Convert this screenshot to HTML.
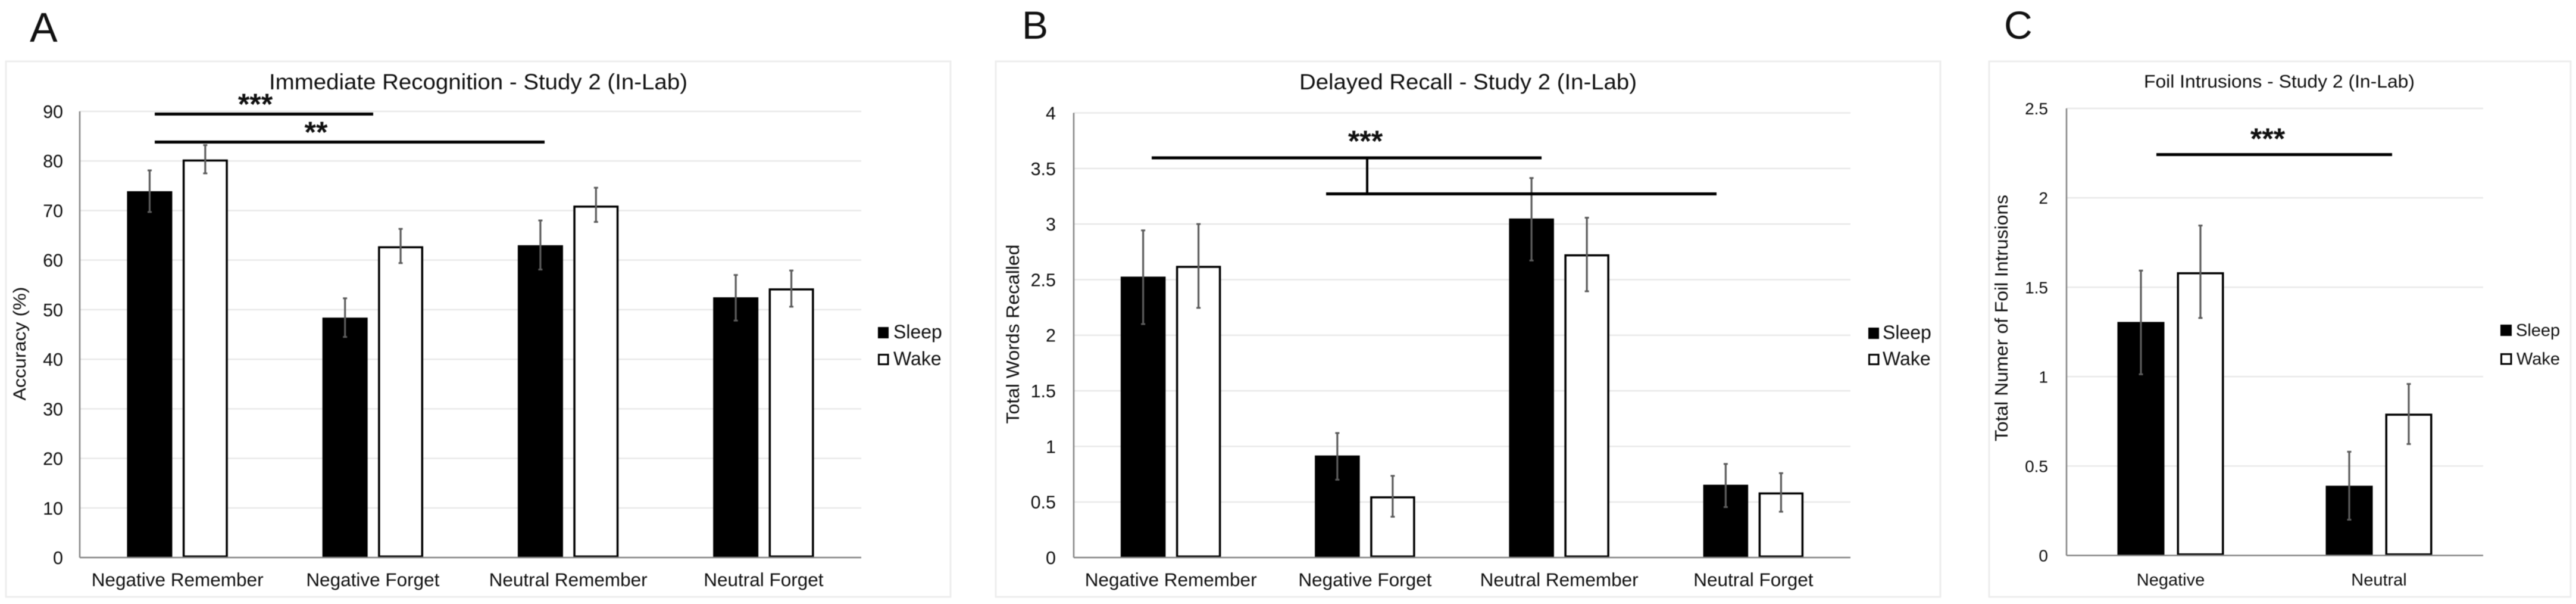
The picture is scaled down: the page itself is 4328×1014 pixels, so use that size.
<!DOCTYPE html>
<html lang="en">
<head>
<meta charset="utf-8">
<title>Study 2 (In-Lab) charts</title>
<style>
html,body{margin:0;padding:0;background:#fff;width:4328px;height:1014px;overflow:hidden}
svg{display:block;filter:blur(0.6px)}
text{font-family:"Liberation Sans",Arial,sans-serif;fill:#111}
</style>
</head>
<body>
<svg id="figure" xmlns="http://www.w3.org/2000/svg" width="4328" height="1014" viewBox="0 0 4328 1014">
  <rect width="4328" height="1014" fill="#fff"/>

  <!-- Panel frames -->
  <rect x="10" y="103" width="1587" height="899" fill="#fff" stroke="#eeeeee" stroke-width="3"/>
  <rect x="1673" y="103" width="1587" height="899" fill="#fff" stroke="#eeeeee" stroke-width="3"/>
  <rect x="3342" y="103" width="977" height="899" fill="#fff" stroke="#eeeeee" stroke-width="3"/>

  <!-- Panel letters -->
  <text x="50" y="70" font-size="70" fill="#000">A</text>
  <text x="1717" y="65" font-size="66" fill="#000">B</text>
  <text x="3367" y="65" font-size="66" fill="#000">C</text>

  <!-- Titles -->
  <text x="452" y="150" font-size="37.5" textLength="703" lengthAdjust="spacingAndGlyphs">Immediate Recognition - Study 2 (In-Lab)</text>
  <text x="2183" y="150" font-size="37.5" textLength="567" lengthAdjust="spacingAndGlyphs">Delayed Recall - Study 2 (In-Lab)</text>
  <text x="3602" y="147" font-size="31" textLength="455" lengthAdjust="spacingAndGlyphs">Foil Intrusions - Study 2 (In-Lab)</text>

  <!-- Y axis titles -->
  <text transform="translate(43,577) rotate(-90)" text-anchor="middle" font-size="30" textLength="191" lengthAdjust="spacingAndGlyphs">Accuracy (%)</text>
  <text transform="translate(1712,561) rotate(-90)" text-anchor="middle" font-size="30.5" textLength="301" lengthAdjust="spacingAndGlyphs">Total Words Recalled</text>
  <text transform="translate(3373,534) rotate(-90)" text-anchor="middle" font-size="31" textLength="414" lengthAdjust="spacingAndGlyphs">Total Numer of Foil Intrusions</text>

  <g id="panel-a"></g>
  <g id="panel-b"></g>
  <g id="panel-c"></g>

  <!-- Significance annotations -->
  <g fill="#000">
    <rect x="260" y="189" width="367" height="5"/>
    <rect x="260" y="236" width="655" height="5"/>
    <text x="429" y="192" text-anchor="middle" font-size="50" font-weight="bold" fill="#000">***</text>
    <text x="531" y="239" text-anchor="middle" font-size="50" font-weight="bold" fill="#000">**</text>
  </g>
  <g fill="#000">
    <rect x="1935" y="262.5" width="655" height="5"/>
    <rect x="2228" y="323" width="656" height="5"/>
    <rect x="2295" y="265" width="4" height="60"/>
    <text x="2294" y="254" text-anchor="middle" font-size="50" font-weight="bold" fill="#000">***</text>
  </g>
  <g fill="#000">
    <rect x="3623" y="257" width="396" height="5"/>
    <text x="3810" y="250" text-anchor="middle" font-size="50" font-weight="bold" fill="#000">***</text>
  </g>

  <!-- Legends -->
  <g>
    <g>
      <rect x="1475" y="549" width="18" height="19" fill="#000"/>
      <text x="1501" y="568" font-size="32">Sleep</text>
    </g>
    <g>
      <rect x="1476.5" y="595.5" width="15.5" height="16" fill="#fff" stroke="#000" stroke-width="3"/>
      <text x="1501" y="613" font-size="32">Wake</text>
    </g>
  </g>
  <g>
    <g>
      <rect x="3139" y="550" width="18" height="19" fill="#000"/>
      <text x="3163" y="569" font-size="32">Sleep</text>
    </g>
    <g>
      <rect x="3140.5" y="595.5" width="15.5" height="16" fill="#fff" stroke="#000" stroke-width="3"/>
      <text x="3163" y="613" font-size="32">Wake</text>
    </g>
  </g>
  <g>
    <g>
      <rect x="4201" y="545" width="19" height="19" fill="#000"/>
      <text x="4227" y="564" font-size="29">Sleep</text>
    </g>
    <g>
      <rect x="4202.5" y="594.5" width="16.5" height="16.5" fill="#fff" stroke="#000" stroke-width="3"/>
      <text x="4228" y="612" font-size="29">Wake</text>
    </g>
  </g>
</svg>

<script>
// Panel A: Immediate Recognition
var categoriesA = ["Negative Remember", "Negative Forget", "Neutral Remember", "Neutral Forget"];
var sleepA = [73.9, 48.4, 63.0, 52.5];
var wakeA = [80.3, 62.8, 71.0, 54.3];
var sleepHighA = [78.1, 52.3, 68.0, 57.0];
var sleepLowA = [69.7, 44.5, 58.1, 47.8];
var wakeHighA = [83.2, 66.3, 74.6, 57.9];
var wakeLowA = [77.5, 59.4, 67.7, 50.6];
var ticksA = ["0", "10", "20", "30", "40", "50", "60", "70", "80", "90"];

// Panel B: Delayed Recall
var categoriesB = ["Negative Remember", "Negative Forget", "Neutral Remember", "Neutral Forget"];
var sleepB = [2.527, 0.918, 3.05, 0.655];
var wakeB = [2.624, 0.551, 2.728, 0.586];
var sleepHighB = [2.943, 1.12, 3.414, 0.842];
var sleepLowB = [2.10, 0.70, 2.672, 0.454];
var wakeHighB = [3.0, 0.735, 3.057, 0.759];
var wakeLowB = [2.246, 0.367, 2.395, 0.412];
var ticksB = ["0", "0.5", "1", "1.5", "2", "2.5", "3", "3.5", "4"];

// Panel C: Foil Intrusions
var categoriesC = ["Negative", "Neutral"];
var sleepC = [1.306, 0.39];
var wakeC = [1.584, 0.793];
var sleepHighC = [1.593, 0.58];
var sleepLowC = [1.013, 0.2];
var wakeHighC = [1.845, 0.959];
var wakeLowC = [1.328, 0.623];
var ticksC = ["0", "0.5", "1", "1.5", "2", "2.5"];

var SVGNS = "http://www.w3.org/2000/svg";

function mk(tag, parent) {
  var el = document.createElementNS(SVGNS, tag);
  parent.appendChild(el);
  return el;
}
function attrs(el, obj) {
  for (var k in obj) el.setAttribute(k, obj[k]);
}

function drawPanel(id, layout, categories, sleep, wake, sleepHigh, sleepLow, wakeHigh, wakeLow, ticks) {
  var root = document.getElementById(id);
  var maxVal = Number(ticks[ticks.length - 1]);
  function y(v) { return layout.y0 - (v / maxVal) * (layout.y0 - layout.yTop); }
  var step = (layout.right - layout.left) / categories.length;
  function cx(i) { return layout.left + step * (i + 0.5); }

  ticks.forEach(function (t) {
    var v = Number(t);
    if (v !== 0) {
      var grid = mk("line", root);
      
      
      attrs(grid, {x1: layout.left, x2: layout.right, y1: y(v), y2: y(v), stroke: "#e9e9e9", "stroke-width": 2.5});
    }
    var lab = mk("text", root);
    
    
    attrs(lab, {x: layout.tickRight, y: y(v) + layout.tickSize * 0.36, "text-anchor": "end", "font-size": layout.tickSize});
    lab.textContent = t;
  });

  var yAxis = mk("line", root);
  
  
  attrs(yAxis, {x1: layout.left, x2: layout.left, y1: layout.yTop, y2: layout.y0, stroke: "#858585", "stroke-width": 2.5});

  categories.forEach(function (c, i) {
    var sx = cx(i) - layout.offset - layout.barW / 2;
    var wx = cx(i) + layout.offset - layout.barW / 2;

    var sBar = mk("rect", root);
    
    
    attrs(sBar, {x: sx, y: y(sleep[i]), width: layout.barW, height: layout.y0 - y(sleep[i]), fill: "#000"});

    var wBar = mk("rect", root);
    
    
    attrs(wBar, {x: wx + 1.75, y: y(wake[i]) + 1.75, width: layout.barW - 3.5, height: layout.y0 - y(wake[i]) - 3.5, fill: "#fff", stroke: "#000", "stroke-width": 3.5});

    var xLab = mk("text", root);
    
    
    attrs(xLab, {x: cx(i), y: layout.labelY, "text-anchor": "middle", "font-size": layout.labelSize});
    xLab.textContent = c;
  });

  var xAxis = mk("line", root);
  
  
  attrs(xAxis, {x1: layout.left, x2: layout.right, y1: layout.y0, y2: layout.y0, stroke: "#858585", "stroke-width": 2.5});

  categories.forEach(function (c, i) {
    [[cx(i) - layout.offset, sleepHigh[i], sleepLow[i]], [cx(i) + layout.offset, wakeHigh[i], wakeLow[i]]].forEach(function (e) {
      var stem = mk("line", root);
      
      
      attrs(stem, {x1: e[0], x2: e[0], y1: y(e[1]), y2: y(e[2]), stroke: "#5c5c5c", "stroke-width": 3.2});

      var capTop = mk("line", root);
      
      
      attrs(capTop, {x1: e[0] - 3.5, x2: e[0] + 3.5, y1: y(e[1]), y2: y(e[1]), stroke: "#5c5c5c", "stroke-width": 3});

      var capBottom = mk("line", root);
      
      
      attrs(capBottom, {x1: e[0] - 3.5, x2: e[0] + 3.5, y1: y(e[2]), y2: y(e[2]), stroke: "#5c5c5c", "stroke-width": 3});
    });
  });
}

drawPanel("panel-a", {left: 134, right: 1447, y0: 936, yTop: 187, barW: 76, offset: 46.7, tickRight: 106, tickSize: 30.5, labelY: 984, labelSize: 31.5},
  categoriesA, sleepA, wakeA, sleepHighA, sleepLowA, wakeHighA, wakeLowA, ticksA);
drawPanel("panel-b", {left: 1804, right: 3109, y0: 936, yTop: 189.5, barW: 75.5, offset: 46.5, tickRight: 1774, tickSize: 30.5, labelY: 984, labelSize: 31.5},
  categoriesB, sleepB, wakeB, sleepHighB, sleepLowB, wakeHighB, wakeLowB, ticksB);
drawPanel("panel-c", {left: 3472, right: 4172, y0: 932.5, yTop: 182, barW: 79, offset: 50, tickRight: 3441, tickSize: 28, labelY: 983, labelSize: 29},
  categoriesC, sleepC, wakeC, sleepHighC, sleepLowC, wakeHighC, wakeLowC, ticksC);
</script>
</body>
</html>
